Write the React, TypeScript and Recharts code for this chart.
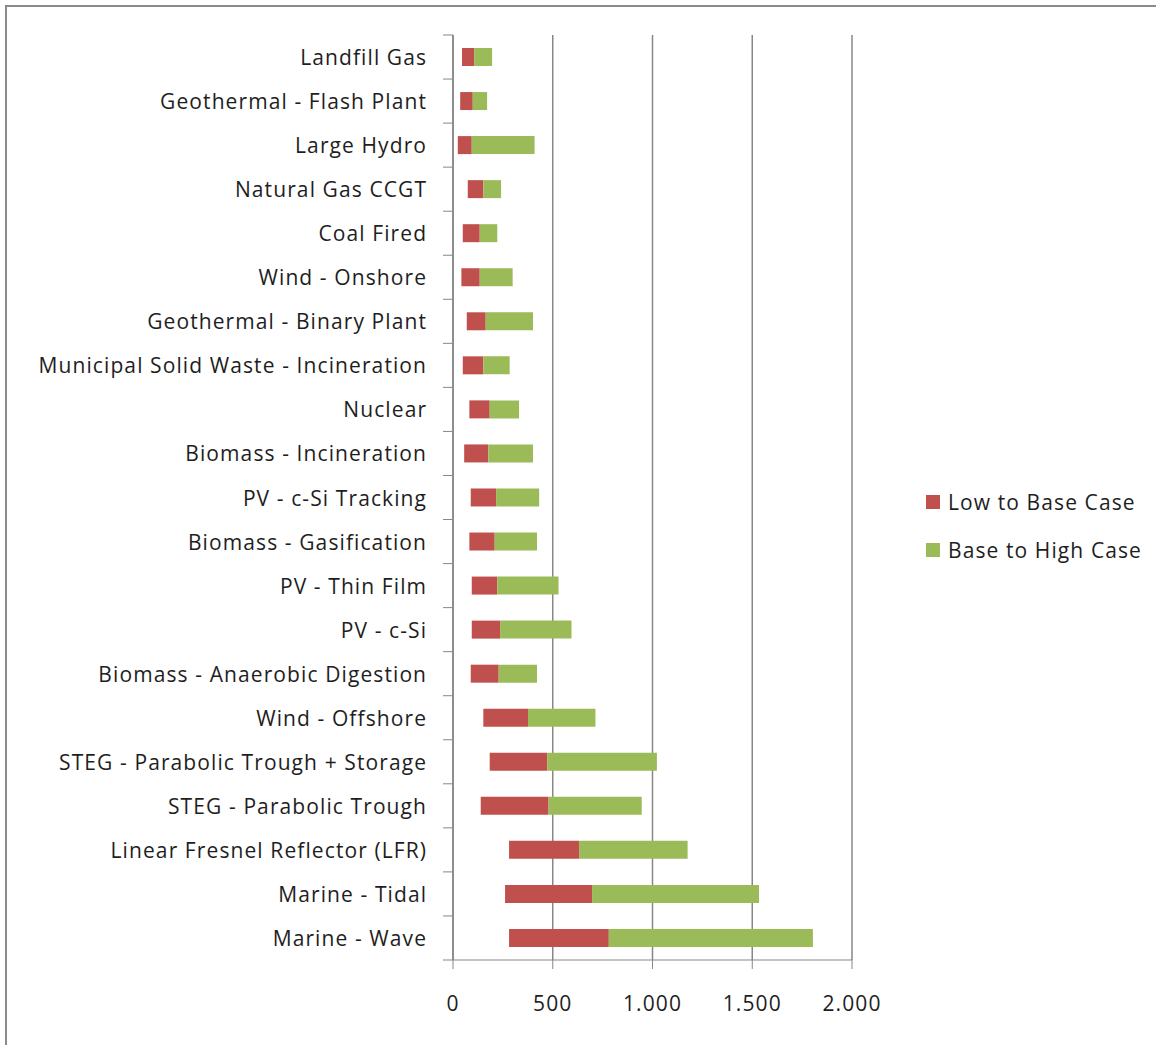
import React from 'react';
import { BarChart, Bar, XAxis, YAxis, CartesianGrid } from 'recharts';

const categories = [
  'Landfill Gas',
  'Geothermal - Flash Plant',
  'Large Hydro',
  'Natural Gas CCGT',
  'Coal Fired',
  'Wind - Onshore',
  'Geothermal - Binary Plant',
  'Municipal Solid Waste - Incineration',
  'Nuclear',
  'Biomass - Incineration',
  'PV - c-Si Tracking',
  'Biomass - Gasification',
  'PV - Thin Film',
  'PV - c-Si',
  'Biomass - Anaerobic Digestion',
  'Wind - Offshore',
  'STEG - Parabolic Trough + Storage',
  'STEG - Parabolic Trough',
  'Linear Fresnel Reflector (LFR)',
  'Marine - Tidal',
  'Marine - Wave',
];

const lowValues = [45, 36, 24, 74, 49, 42, 69, 49, 82, 56, 89, 82, 94, 94, 89, 152, 184, 139, 281, 261, 281];
const baseValues = [106, 99, 94, 152, 134, 134, 164, 152, 184, 177, 216, 209, 222, 236, 229, 376, 472, 479, 632, 697, 781];
const highValues = [196, 171, 409, 241, 222, 299, 401, 284, 331, 401, 432, 421, 529, 594, 421, 714, 1022, 946, 1176, 1534, 1804];

const xTicks = [0, 500, 1000, 1500, 2000];

const seriesNames = ['Low to Base Case', 'Base to High Case'];
const seriesColors = ['#C0504D', '#9BBB59'];

const data = categories.map((name, i) => ({
  name,
  offset: lowValues[i],
  lowToBase: baseValues[i] - lowValues[i],
  baseToHigh: highValues[i] - baseValues[i],
}));

const W = 1156;
const H = 1045;
const M = { top: 35, right: 304, bottom: 25, left: 0 };
const X_AXIS_H = 60;
const PLOT_H = H - M.top - M.bottom - X_AXIS_H;
const BAND = PLOT_H / categories.length;
const FONT = '"Open Sans", Lato, sans-serif';
const FS = 21;
const LS = 1.1;
const TEXT = '#1e1e1e';
const AXIS = '#878787';

const fmt = (v: number) => String(v).replace(/\B(?=(\d{3})+(?!\d))/g, '.');

const YTick = (props: any) => {
  const { x, y, payload, index } = props;
  const axisX = x + 27;
  return (
    <g>
      <line x1={axisX - 10} x2={axisX} y1={y - BAND / 2} y2={y - BAND / 2} stroke={AXIS} strokeWidth={1} />
      {index === categories.length - 1 && (
        <line x1={axisX - 10} x2={axisX} y1={y + BAND / 2} y2={y + BAND / 2} stroke={AXIS} strokeWidth={1} />
      )}
      <text
        x={x + LS}
        y={y}
        textAnchor="end"
        dominantBaseline="central"
        fill={TEXT}
        fontSize={FS}
        fontFamily={FONT}
        letterSpacing={LS}
      >
        {payload.value}
      </text>
    </g>
  );
};

export default function App() {
  return (
    <div style={{ position: 'absolute', left: 0, top: 0, width: W, height: H, overflow: 'hidden', background: '#fff' }}>
      <div
        style={{
          position: 'absolute',
          left: 5,
          top: 5,
          width: 1200,
          height: 1100,
          border: '2px solid #8a8a8a',
          boxSizing: 'border-box',
        }}
      />
      <div style={{ position: 'absolute', left: 0, top: 0 }}>
        <BarChart width={W} height={H} data={data} layout="vertical" margin={M} barSize={18}>
          <CartesianGrid horizontal={false} vertical stroke={AXIS} strokeWidth={1.5} />
          <XAxis
            type="number"
            domain={[0, 2000]}
            ticks={xTicks}
            tickFormatter={fmt}
            height={X_AXIS_H}
            tickSize={9}
            tickMargin={27}
            axisLine={{ stroke: AXIS }}
            tickLine={{ stroke: AXIS }}
            tick={{ fill: TEXT, fontSize: FS, fontFamily: FONT, letterSpacing: LS }}
            interval={0}
          />
          <YAxis
            type="category"
            dataKey="name"
            width={453}
            axisLine={{ stroke: AXIS, strokeWidth: 1.5 }}
            tickLine={false}
            tickSize={10}
            tickMargin={17}
            tick={<YTick />}
            interval={0}
          />
          <Bar dataKey="offset" stackId="a" fill="transparent" isAnimationActive={false} />
          <Bar dataKey="lowToBase" name={seriesNames[0]} stackId="a" fill={seriesColors[0]} isAnimationActive={false} />
          <Bar dataKey="baseToHigh" name={seriesNames[1]} stackId="a" fill={seriesColors[1]} isAnimationActive={false} />
        </BarChart>
      </div>
      {seriesNames.map((n, i) => (
        <div
          key={n}
          style={{
            position: 'absolute',
            left: 926,
            top: 488 + i * 48,
            height: 28,
            display: 'flex',
            alignItems: 'center',
            fontFamily: FONT,
            fontSize: FS,
            letterSpacing: LS,
            color: TEXT,
            whiteSpace: 'nowrap',
          }}
        >
          <span style={{ display: 'inline-block', width: 14, height: 14, background: seriesColors[i], marginRight: 8 }} />
          {n}
        </div>
      ))}
    </div>
  );
}
